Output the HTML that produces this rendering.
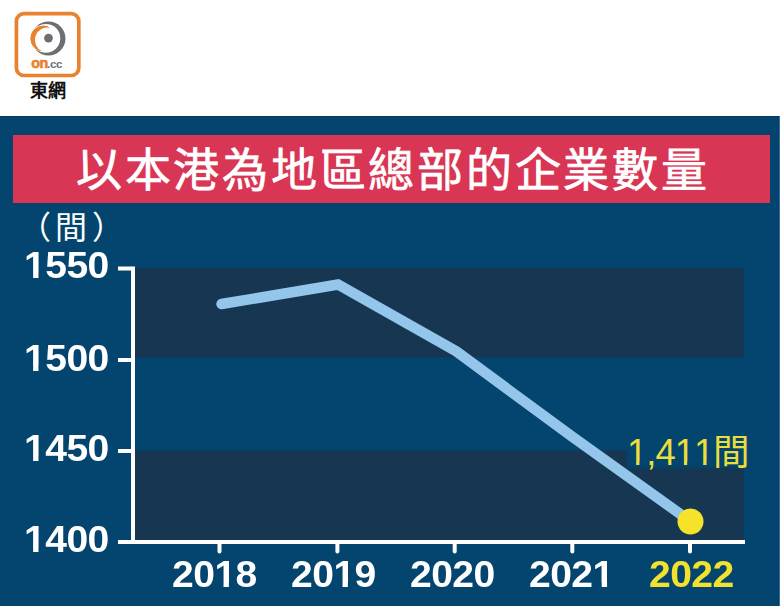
<!DOCTYPE html>
<html lang="zh-HK"><head><meta charset="utf-8">
<style>
html,body{margin:0;padding:0;}
body{width:780px;height:606px;position:relative;overflow:hidden;background:#ffffff;font-family:"Liberation Sans",sans-serif;}
.abs{position:absolute;}
#panel{left:0;top:116px;width:780px;height:490px;background:#03456e;}
#redbox{left:13px;top:135px;width:757px;height:68px;background:#d83654;}
#title{left:76px;top:136px;height:68px;line-height:68px;font-size:46px;letter-spacing:2.73px;-webkit-text-stroke:0.7px #fff;color:#fff;white-space:nowrap;}
.ylab,.xlab{font-weight:bold;font-size:36.5px;letter-spacing:-0.5px;color:#fff;line-height:36.5px;white-space:nowrap;transform:scaleX(1.07);transform-origin:0 0;}
.oner{display:inline-block;clip-path:polygon(0 0,100% 0,100% 0.74em,0.342em 0.74em,0.342em 100%,0.25em 100%,0.25em 0.74em,0 0.74em);}
.one{display:inline-block;clip-path:polygon(0 0,100% 0,100% 0.70em,0.371em 0.70em,0.371em 100%,0.234em 100%,0.234em 0.70em,0 0.70em);}
</style></head><body>
<svg class="abs" style="left:0;top:0" width="100" height="110">
  <rect x="16.4" y="13.7" width="62.4" height="61.8" rx="7.5" ry="7.5" fill="#fff" stroke="#e9822e" stroke-width="3.7"/>
  <circle cx="48.5" cy="38.5" r="17" fill="#6d6e71"/>
  <circle cx="45.9" cy="38.3" r="14.4" fill="#fff"/>
  <path d="M50.06 27.69 A12.75 12.75 0 1 0 41.75 51.15 A12.52 12.52 0 0 1 50.06 27.69Z" fill="#e9822e" stroke="#fff" stroke-width="1.2" paint-order="stroke"/>
  <path d="M50.06 27.69 A12.75 12.75 0 1 0 41.75 51.15 A12.52 12.52 0 0 1 50.06 27.69Z" fill="#e9822e"/>
  <circle cx="48.5" cy="38.1" r="4.4" fill="#6d6e71"/>
  <text x="31.3" y="68.2" font-family="Liberation Sans" font-weight="bold" font-size="14.3" fill="#e9822e" stroke="#e9822e" stroke-width="0.6" letter-spacing="-0.6">on</text>
  <text x="47" y="68.2" font-family="Liberation Sans" font-weight="bold" font-size="11.5" fill="#6d6e71" letter-spacing="-0.3">.cc</text>
</svg>
<div class="abs" style="left:29.7px;top:80.2px;font-size:18px;line-height:22px;font-weight:bold;color:#111;">東網</div>
<div id="panel" class="abs"></div>
<div class="abs" style="left:0;top:116px;width:780px;height:1px;background:#023a62;"></div>
<div class="abs" style="left:778px;top:116px;width:1px;height:490px;background:#023e69;"></div>
<div class="abs" style="left:779px;top:116px;width:1px;height:490px;background:#3570a0;"></div>
<div id="redbox" class="abs"></div>
<div id="title" class="abs">以本港為地區總部的企業數量</div>
<svg class="abs" style="left:0;top:0" width="780" height="606">
  <rect x="135" y="268" width="608.5" height="89.5" fill="#163651"/>
  <rect x="135" y="450.5" width="608.5" height="90" fill="#163651"/>
  <defs><filter id="bl" x="-20%" y="-50%" width="140%" height="200%" color-interpolation-filters="sRGB"><feGaussianBlur stdDeviation="1.8"/></filter></defs>
  <rect x="627" y="446" width="126" height="22" fill="#03456e" filter="url(#bl)"/>
  <path d="M118 268.5 H133 V542" stroke="#fff" stroke-width="4" fill="none"/>
  <path d="M118 360 H133 M118 451 H133" stroke="#fff" stroke-width="4" fill="none"/>
  <path d="M118 542 H745" stroke="#fff" stroke-width="4" fill="none"/>
  <path d="M219.5 542 V551.5 M337.4 542 V551.5 M454.7 542 V551.5 M572.3 542 V551.5 M690 542 V551.5" stroke="#fff" stroke-width="4" stroke-linecap="round" fill="none"/>
  <polyline points="221.5,304 338,284.5 456.5,351.5 572,436.5 690,521" stroke="#93c6ea" stroke-width="10.5" fill="none" stroke-linecap="round" stroke-linejoin="miter"/>
  <circle cx="690.5" cy="521.5" r="13" fill="#f5e22b"/>
</svg>
<div class="abs ylab" style="left:23.8px;top:248.2px;"><span class="one">1</span>550</div>
<div class="abs ylab" style="left:23.8px;top:340.8px;"><span class="one">1</span>500</div>
<div class="abs ylab" style="left:23.8px;top:431.1px;"><span class="one">1</span>450</div>
<div class="abs ylab" style="left:23.8px;top:522.4px;"><span class="one">1</span>400</div>
<div class="abs xlab" style="left:172.0px;top:557.2px;">20<span class="one">1</span>8</div>
<div class="abs xlab" style="left:291.0px;top:557.2px;">20<span class="one">1</span>9</div>
<div class="abs xlab" style="left:409.5px;top:557.2px;">2020</div>
<div class="abs xlab" style="left:528.7px;top:557.2px;">202<span class="one">1</span></div>
<div class="abs xlab" style="left:648.7px;top:557.2px;color:#f3e22d;">2022</div>
<div class="abs" style="left:627px;top:434.5px;font-size:36.5px;color:#ecde3a;line-height:36.5px;letter-spacing:-1px;"><span class="oner">1</span>,4<span class="oner">1</span><span class="oner">1</span>間</div>
<div class="abs" style="left:19.2px;top:212px;font-size:32px;color:#fff;line-height:32px;">（</div>
<div class="abs" style="left:54.8px;top:211.8px;font-size:32px;color:#fff;line-height:32px;">間</div>
<div class="abs" style="left:91.8px;top:212px;font-size:32px;color:#fff;line-height:32px;">）</div>
</body></html>
